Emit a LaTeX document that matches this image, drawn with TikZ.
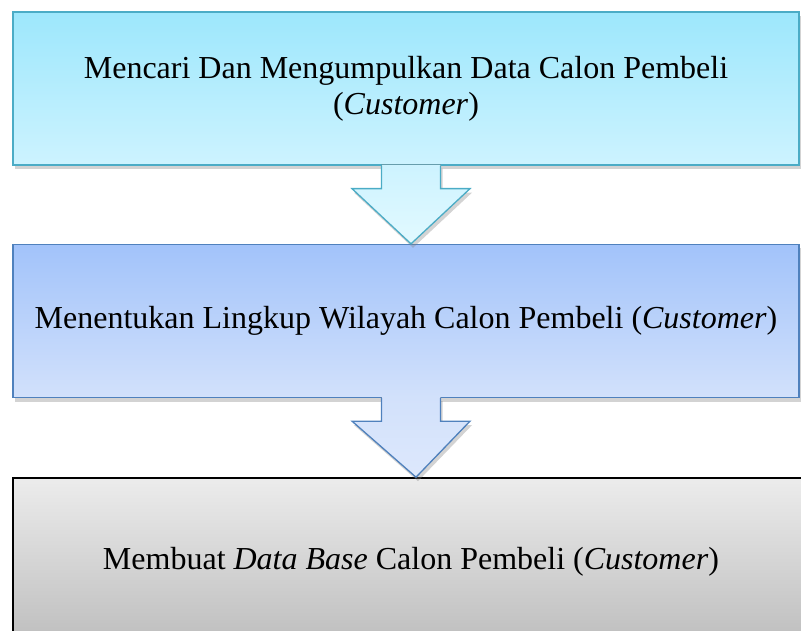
\documentclass[tikz,border=0pt]{standalone}
\usepackage{fontspec}
\setmainfont{Liberation Serif}
\usetikzlibrary{positioning,calc,shadows}
\definecolor{cyanline}{HTML}{4BACC6}
\definecolor{cyantop}{HTML}{9DE7FC}
\definecolor{cyanbot}{HTML}{CDF3FF}
\definecolor{cyantip}{HTML}{E2F9FF}
\definecolor{blueline}{HTML}{4F81BD}
\definecolor{bluetop}{HTML}{A2C3FA}
\definecolor{bluebot}{HTML}{D2E1FB}
\definecolor{bluetip}{HTML}{DDE8FC}
\definecolor{greytop}{HTML}{ECECEC}
\definecolor{greybot}{HTML}{BDBDBD}

\begin{document}
\begin{tikzpicture}[x=1pt,y=1pt,
  stage/.style={draw,line width=1.3pt,minimum width=786pt,minimum height=153pt,
    inner sep=0pt,align=center,font=\fontsize{32}{36}\selectfont,
    drop shadow={shadow xshift=2pt,shadow yshift=-4pt,opacity=0.35}},
  flowarrow/.style={line width=1.3pt,line join=miter}]
\useasboundingbox (0,0) rectangle (801,-631);
% the three steps
\node[stage,draw=cyanline,top color=cyantop,bottom color=cyanbot] (find) at (406,-88.5)
  {Mencari Dan Mengumpulkan Data Calon Pembeli\\(\textit{Customer})};
\node[stage,draw=blueline,top color=bluetop,bottom color=bluebot] (scope) at (406,-321)
  {Menentukan Lingkup Wilayah Calon Pembeli (\textit{Customer})};
\node[stage,draw=black,line width=1.6pt,minimum width=796pt,minimum height=168pt,
  top color=greytop,bottom color=greybot] (base) at (411,-562)
  {Membuat \textit{Data Base} Calon Pembeli (\textit{Customer})};
% block arrows between the steps
\foreach \from/\to/\edge/\fa/\fb in {find/scope/cyanline/cyanbot/cyantip,
                                     scope/base/blueline/bluebot/bluetip} {
  \fill[top color=\fa,bottom color=\fb,
    drop shadow={shadow xshift=2pt,shadow yshift=-4pt,opacity=0.35}]
    ($(\from.south)+(-24.5,1)$) -- ++(0,-24) -- ++(-29.5,0)
    -- ($(\to.north)+(5,0)$) -- ($(\from.south)+(64,-23)$) -- ++(-29.5,0) -- ++(0,24) -- cycle;
  \draw[flowarrow,draw=\edge] ($(\from.south)+(-24.5,0)$) -- ++(0,-23) -- ++(-29.5,0)
    -- ($(\to.north)+(5,0)$) -- ($(\from.south)+(64,-23)$) -- ++(-29.5,0) -- ++(0,23);
}
\end{tikzpicture}
\end{document}
